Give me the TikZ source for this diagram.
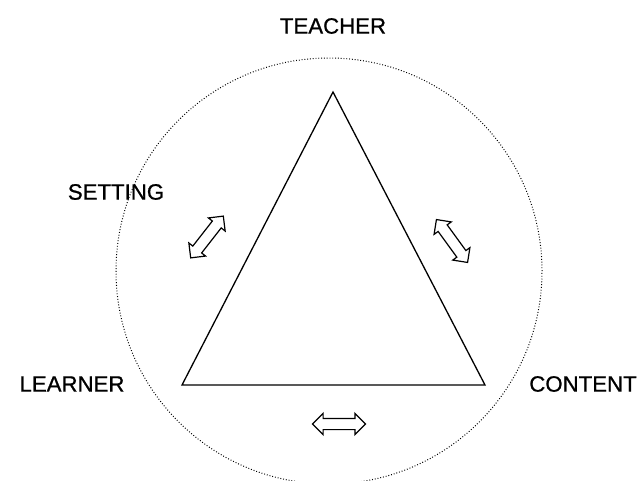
\documentclass[tikz,border=0pt]{standalone}
\usepackage{fontspec}
\setmainfont{Liberation Sans}
\newfontfamily\lblfont[FakeBold=0.8]{Liberation Sans}
\usetikzlibrary{shapes.arrows}
\tikzset{
	corner/.style={font=\lblfont\fontsize{22.3}{26}\selectfont, inner sep=0pt},
	dblarrow/.style={shape=double arrow, draw=black, line width=1.2bp, fill=white,
		minimum height=53bp, inner sep=5bp, double arrow head extend=5bp},
	ring/.style={draw=black, line width=1bp, dash pattern=on 0.9bp off 1.9bp}
}
\begin{document}
\begin{tikzpicture}[x=1bp, y=-1bp]
	\useasboundingbox (0,0) rectangle (643,481);

	% setting circle
	\draw[ring] (329,271) circle[radius=213bp];

	% triangle
	\coordinate (top) at (333,92);
	\coordinate (left) at (182,385);
	\coordinate (right) at (485,385);
	\draw[line width=1.3bp, line join=miter] (top) -- (left) -- (right) -- cycle;

	% labels
	\node[corner] (teacher) at (333,26) {TEACHER};
	\node[corner] (setting) at (116,192) {SETTING};
	\node[corner] (learner) at (72,384) {LEARNER};
	\node[corner] (content) at (583,384) {CONTENT};

	% arrows
	\node[dblarrow, rotate=52] (arrowL) at (207,237) {};
	\node[dblarrow, rotate=-54] (arrowR) at (452,241) {};
	\node[dblarrow] (arrowB) at (339,424) {};
\end{tikzpicture}
\end{document}
